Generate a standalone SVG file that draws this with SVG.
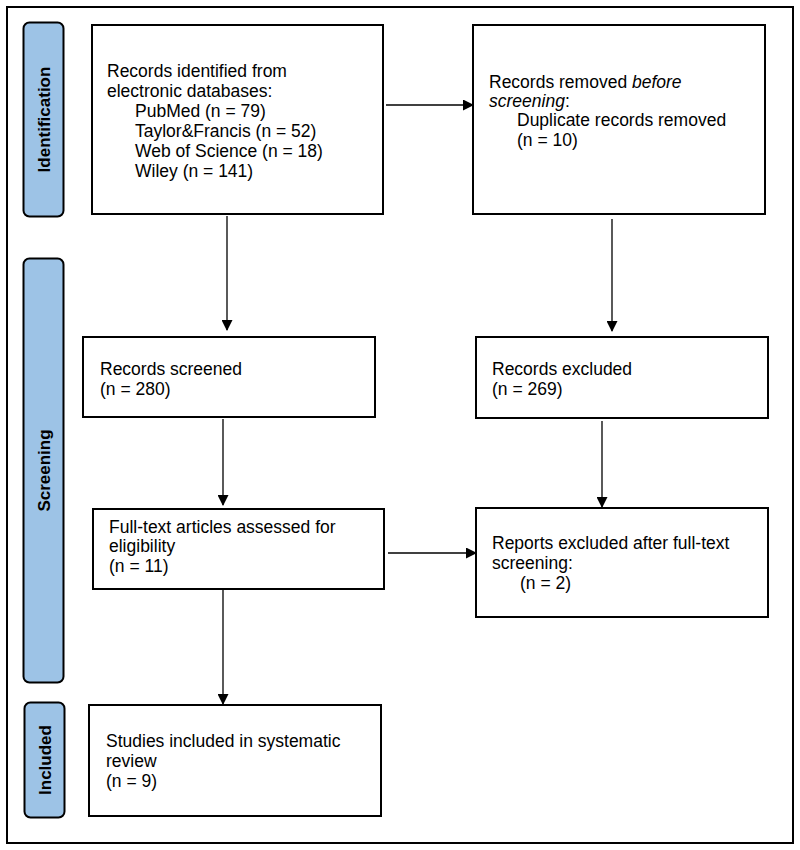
<svg xmlns="http://www.w3.org/2000/svg" width="800" height="850" viewBox="0 0 800 850">
<style>
.frame{fill:#fff;stroke:#000;stroke-width:2}
.box{fill:#fff;stroke:#000;stroke-width:2}
.lbl{fill:#9DC3E6;stroke:#000;stroke-width:2}
.t{font-family:"Liberation Sans",Arial,sans-serif;font-size:17.5px;fill:#000}
.v{font-family:"Liberation Sans",Arial,sans-serif;font-size:17px;font-weight:bold;fill:#000;text-anchor:middle}
.c{fill:none;stroke:#000;stroke-width:1.3}
</style>
<defs>
<marker id="ah" markerWidth="11" markerHeight="11" refX="10" refY="5.5" orient="auto" markerUnits="userSpaceOnUse">
<path d="M0,0 L11,5.5 L0,11 Z" fill="#000"/>
</marker>
</defs>
<rect width="800" height="850" fill="#fff"/>
<rect class="frame" x="7" y="7" width="786" height="836"/>

<g id="label-identification">
<rect class="lbl" x="23.5" y="22.5" width="40" height="194" rx="6"/>
<text class="v" transform="translate(49.5,119.5) rotate(-90)">Identification</text>
</g>
<g id="label-screening">
<rect class="lbl" x="23.5" y="258.5" width="40" height="424" rx="6"/>
<text class="v" transform="translate(49.5,470.5) rotate(-90)">Screening</text>
</g>
<g id="label-included">
<rect class="lbl" x="24.5" y="702.5" width="40" height="115" rx="6"/>
<text class="v" transform="translate(50.5,760) rotate(-90)">Included</text>
</g>

<g id="n-identified">
<rect class="box" x="92" y="25" width="291" height="189"/>
<text class="t" x="107" y="77">Records identified from</text>
<text class="t" x="107" y="97">electronic databases:</text>
<text class="t" x="135" y="117">PubMed (n = 79)</text>
<text class="t" x="135" y="137">Taylor&amp;Francis (n = 52)</text>
<text class="t" x="135" y="157">Web of Science (n = 18)</text>
<text class="t" x="135" y="177">Wiley (n = 141)</text>
</g>
<g id="n-removed">
<rect class="box" x="473" y="25" width="292" height="189"/>
<text class="t" x="489" y="88">Records removed <tspan font-style="italic">before</tspan></text>
<text class="t" x="489" y="107"><tspan font-style="italic">screening</tspan>:</text>
<text class="t" x="517" y="126">Duplicate records removed</text>
<text class="t" x="517" y="146">(n = 10)</text>
</g>
<g id="n-screened">
<rect class="box" x="83" y="337" width="292" height="80"/>
<text class="t" x="100" y="375">Records screened</text>
<text class="t" x="100" y="395">(n = 280)</text>
</g>
<g id="n-excluded">
<rect class="box" x="476" y="337" width="292" height="81"/>
<text class="t" x="492" y="375">Records excluded</text>
<text class="t" x="492" y="395">(n = 269)</text>
</g>
<g id="n-fulltext">
<rect class="box" x="93" y="509" width="291" height="80"/>
<text class="t" x="109" y="533">Full-text articles assessed for</text>
<text class="t" x="109" y="552">eligibility</text>
<text class="t" x="109" y="572">(n = 11)</text>
</g>
<g id="n-reports">
<rect class="box" x="476" y="508" width="292" height="109"/>
<text class="t" x="492" y="549">Reports excluded after full-text</text>
<text class="t" x="492" y="569">screening:</text>
<text class="t" x="520" y="589">(n = 2)</text>
</g>
<g id="n-included">
<rect class="box" x="89" y="705" width="292" height="111"/>
<text class="t" x="106" y="747">Studies included in systematic</text>
<text class="t" x="106" y="767">review</text>
<text class="t" x="106" y="787">(n = 9)</text>
</g>

<g id="connectors">
<line class="c" x1="386" y1="105" x2="473" y2="105" marker-end="url(#ah)"/>
<line class="c" x1="227" y1="216" x2="227" y2="330" marker-end="url(#ah)"/>
<line class="c" x1="612" y1="219" x2="612" y2="331" marker-end="url(#ah)"/>
<line class="c" x1="223" y1="419" x2="223" y2="505" marker-end="url(#ah)"/>
<line class="c" x1="602" y1="421" x2="602" y2="507" marker-end="url(#ah)"/>
<line class="c" x1="388" y1="553" x2="476" y2="553" marker-end="url(#ah)"/>
<line class="c" x1="223" y1="590" x2="223" y2="704" marker-end="url(#ah)"/>
</g>
</svg>
